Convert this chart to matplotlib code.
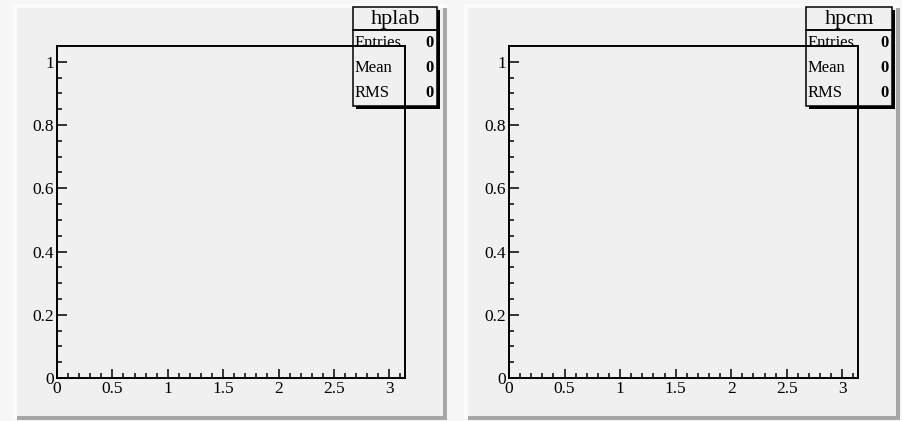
import numpy as np
import matplotlib.pyplot as plt
from matplotlib.patches import Rectangle

plt.rcParams['font.family'] = ['Liberation Serif', 'DejaVu Serif']

# data: two empty histograms
hist_names = ['hplab', 'hpcm']
entries = [0, 0]
means = [0, 0]
rms_vals = [0, 0]
n_bins = 100
bin_counts = [0] * n_bins
x_max = np.pi
y_max = 1.05
x_ticks = [0, 0.5, 1, 1.5, 2, 2.5, 3]
x_labels = ['0', '0.5', '1', '1.5', '2', '2.5', '3']
y_ticks = [0, 0.2, 0.4, 0.6, 0.8, 1]
y_labels = ['0', '0.2', '0.4', '0.6', '0.8', '1']

W, H = 902, 421
fig = plt.figure(figsize=(W / 100, H / 100), dpi=100)
fig.patch.set_facecolor('#f7f7f7')


def px_axes(x0, y0, x1, y1, z):
    return fig.add_axes([x0 / W, 1 - y1 / H, (x1 - x0) / W, (y1 - y0) / H], zorder=z)


def pixel_layer(z):
    a = px_axes(0, 0, W, H, z)
    a.set_xlim(0, W)
    a.set_ylim(H, 0)
    a.axis('off')
    a.patch.set_alpha(0)
    return a


bg = pixel_layer(0)
ov = pixel_layer(3)

# pads (ROOT style bevel)
pads = [(13, 4, 447, 420), (464, 4, 900, 420)]
frames = [(57, 46, 405, 378), (509, 46, 858, 378)]
stats = [(353, 7, 437, 106), (806, 7, 892, 106)]
b = 4
for (x0, y0, x1, y1) in pads:
    bg.add_patch(Rectangle((x0, y0), x1 - x0, y1 - y0, fc='#fcfcfc', ec='none'))
    bg.add_patch(Rectangle((x0 + b, y0 + b), x1 - x0 - b, y1 - y0 - b, fc='#a6a6a6', ec='none'))
    bg.add_patch(Rectangle((x0 + b, y0 + b), x1 - x0 - 2 * b, y1 - y0 - 2 * b, fc='#f0f0f0', ec='none'))

for i, (fx0, fy0, fx1, fy1) in enumerate(frames):
    ax = px_axes(fx0, fy0, fx1, fy1, 1)
    ax.patch.set_alpha(0)
    edges = np.linspace(0, x_max, n_bins + 1)
    ax.stairs(bin_counts, edges, color='black', lw=1)
    ax.set_xlim(0, x_max)
    ax.set_ylim(0, y_max)
    for s in ax.spines.values():
        s.set_linewidth(1.4)
    ax.set_xticks(x_ticks)
    ax.set_xticklabels(x_labels)
    ax.set_yticks(y_ticks)
    ax.set_yticklabels(y_labels)
    ax.set_xticks(np.arange(0, x_max, 0.1), minor=True)
    ax.set_yticks(np.arange(0, y_max, 0.05), minor=True)
    ax.tick_params(which='both', direction='in', width=1.1, labelsize=12.5, top=False, right=False)
    ax.tick_params(which='major', axis='x', length=6.5, pad=2)
    ax.tick_params(which='minor', axis='x', length=3.6)
    ax.tick_params(which='major', axis='y', length=7.2, pad=2)
    ax.tick_params(which='minor', axis='y', length=3.6)

    # stats box: title pave + entries
    sx0, sy0, sx1, sy1 = stats[i]
    sep = 30
    sh = 3
    ov.add_patch(Rectangle((sx0, sy0), sx1 - sx0, sep - sy0, fc='#f0f0f0', ec='black', lw=1.1))
    ov.add_patch(Rectangle((sx0, sep), sx1 - sx0, sy1 - sep, fc='none', ec='black', lw=1.1))
    ov.add_patch(Rectangle((sx1, sy0 + sh), sh, sy1 - sy0, fc='black', ec='none'))
    ov.add_patch(Rectangle((sx0 + sh, sy1), sx1 - sx0, sh, fc='black', ec='none'))
    ov.text((sx0 + sx1) / 2, (sy0 + sep) / 2 + 1, hist_names[i], ha='center', va='center', fontsize=16)
    rows = [('Entries', entries[i]), ('Mean', means[i]), ('RMS', rms_vals[i])]
    rh = (sy1 - sep) / 3
    for k, (lab, val) in enumerate(rows):
        yc = sep + rh * (k + 0.5)
        ov.text(sx0 + 2, yc, lab, ha='left', va='center', fontsize=12)
        ov.text(sx1 - 3, yc, '%d' % val, ha='right', va='center', fontsize=12, fontweight='bold')

plt.savefig('out.png', dpi=100, facecolor=fig.get_facecolor())
